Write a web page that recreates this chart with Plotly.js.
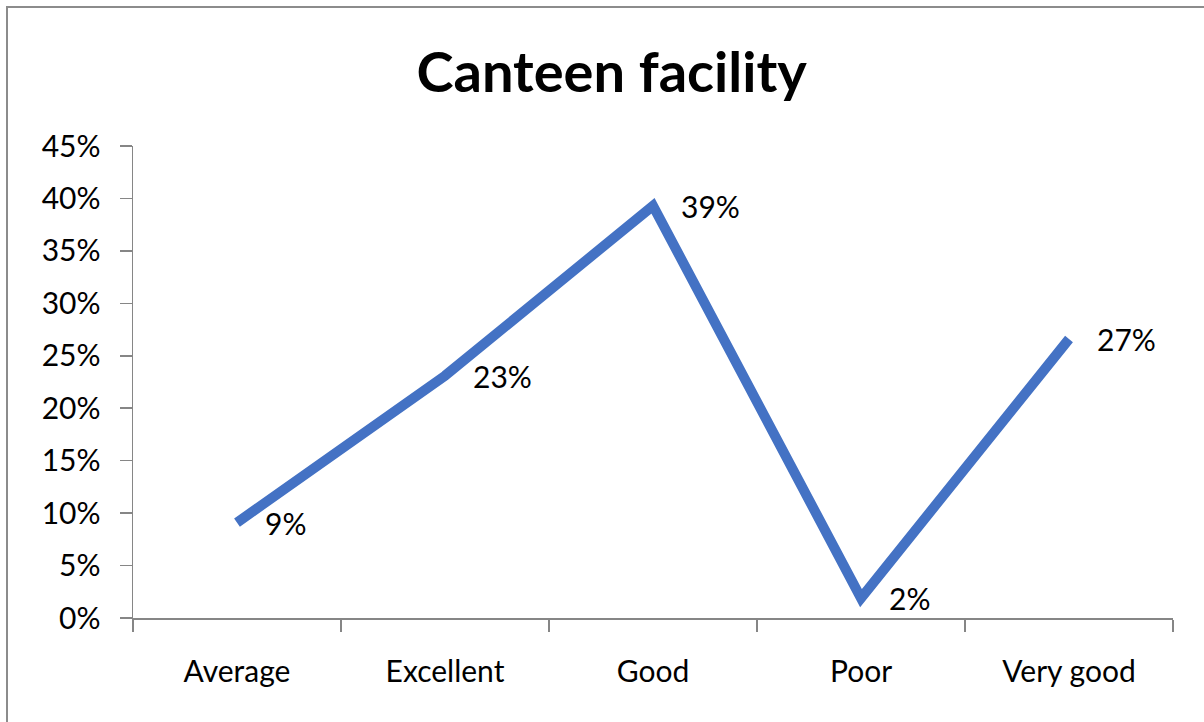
<!DOCTYPE html>
<html>
<head>
<meta charset="utf-8">
<script src="https://cdn.plot.ly/plotly-3.0.1.min.js"></script>
<style>
html,body{margin:0;padding:0;background:#fff;}
#chart{width:1204px;height:722px;}
</style>
</head>
<body>
<div id="chart"></div>
<script>
// Data
const categories = ["Average", "Excellent", "Good", "Poor", "Very good"];
const shares = [0.091, 0.231, 0.393, 0.019, 0.266];
const labels = ["9%", "23%", "39%", "2%", "27%"];
const yTickVals = [0, 0.05, 0.10, 0.15, 0.20, 0.25, 0.30, 0.35, 0.40, 0.45];
const yTickText = ["0%", "5%", "10%", "15%", "20%", "25%", "30%", "35%", "40%", "45%"];

const FONT = "Lato, 'Open Sans', sans-serif";

const trace = {
  type: "scatter",
  mode: "lines",
  x: categories,
  y: shares,
  line: {color: "#4472C4", width: 10},
  hoverinfo: "skip"
};

const dataLabels = categories.map((c, i) => ({
  x: c, y: shares[i], xref: "x", yref: "y",
  text: labels[i], showarrow: false,
  xanchor: "left", yanchor: "middle",
  xshift: 26, yshift: 0,
  font: {family: FONT, size: 30, color: "#000"}
}));

const layout = {
  width: 1204,
  height: 722,
  paper_bgcolor: "#fff",
  plot_bgcolor: "#fff",
  showlegend: false,
  margin: {l: 133, r: 31, t: 146, b: 104},
  title: {
    text: "<b>Canteen facility</b>",
    font: {family: FONT, size: 56, color: "#000"},
    x: 0.508, xref: "container", xanchor: "center",
    y: 0.9, yref: "container", yanchor: "middle"
  },
  xaxis: {
    type: "category",
    range: [-0.5, 4.5],
    autorange: false,
    showgrid: false,
    zeroline: false,
    showline: true,
    linecolor: "#868686",
    linewidth: 1.5,
    ticks: "outside",
    tickson: "boundaries",
    ticklen: 12,
    tickcolor: "#868686",
    tickwidth: 1.5,
    tickfont: {family: FONT, size: 30, color: "#000"},
    ticklabelstandoff: 26
  },
  yaxis: {
    range: [0, 0.45],
    autorange: false,
    tickvals: yTickVals,
    ticktext: yTickText,
    showgrid: false,
    zeroline: false,
    showline: true,
    linecolor: "#868686",
    linewidth: 1.5,
    ticks: "outside",
    ticklen: 12,
    tickcolor: "#868686",
    tickwidth: 1.5,
    tickfont: {family: FONT, size: 30, color: "#000"},
    ticklabelstandoff: 13
  },
  annotations: dataLabels,
  shapes: [{
    type: "rect",
    xref: "paper", yref: "paper",
    x0: (7 - 133) / 1040, x1: (1215 - 133) / 1040,
    y0: (618 - 735) / 472, y1: (618 - 7) / 472,
    line: {color: "#8c8c8c", width: 2},
    fillcolor: "rgba(0,0,0,0)",
    layer: "below"
  }]
};

Plotly.newPlot("chart", [trace], layout, {displayModeBar: false, staticPlot: true});
</script>
</body>
</html>
